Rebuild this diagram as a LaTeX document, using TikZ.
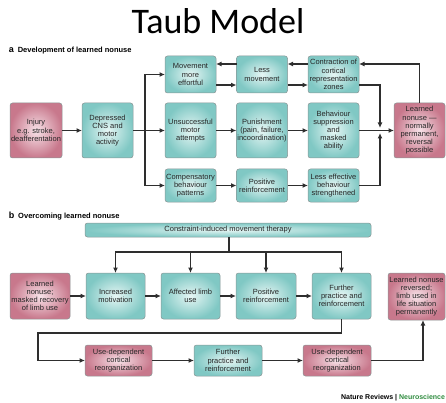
\documentclass[tikz,border=0pt]{standalone}
\usepackage{fontspec}
\setmainfont{Liberation Sans}
\newfontfamily\titlefont{Carlito}
\usetikzlibrary{arrows.meta}
\definecolor{tealedge}{HTML}{80C8C4}
\definecolor{tealmid}{HTML}{E6F6F4}
\definecolor{pinkedge}{HTML}{C8788C}
\definecolor{pinkmid}{HTML}{F7E2E8}
\definecolor{boxline}{HTML}{8A9696}
\definecolor{flowgrey}{HTML}{2E2E2E}
\definecolor{natgreen}{HTML}{2E8B3E}
\begin{document}
\begin{tikzpicture}[x=1pt,y=-1pt,inner sep=1pt,outer sep=0pt,
>={Latex[length=5.5pt,width=5pt]},
flow/.style={draw=flowgrey,line width=1.2pt},
boxtext/.style={font=\fontsize{7.5}{8.2}\selectfont,text=black!85,align=center},
tealbox/.style={boxtext,draw=boxline,line width=0.5pt,rounded corners=2.5pt,inner color=tealmid,outer color=tealedge,minimum width=51pt},
pinkbox/.style={boxtext,draw=boxline,line width=0.5pt,rounded corners=2.5pt,inner color=pinkmid,outer color=pinkedge,minimum width=51pt},
headtext/.style={anchor=base west,font=\bfseries\fontsize{7.5}{9}\selectfont}]

\useasboundingbox (0,0) rectangle (446,403);

\draw (218,34) node[anchor=base,font=\titlefont\fontsize{36}{40}\selectfont] (title) {Taub Model};
\draw (8,53) node[headtext] (heada) {{\fontsize{9}{9}\selectfont a}\enspace Development of learned nonuse};
\draw (8,218) node[headtext] (headb) {{\fontsize{9}{9}\selectfont b}\enspace Overcoming learned nonuse};

\draw (36,130.5) node[pinkbox,minimum width=52pt,minimum height=55pt] (injury) {Injury\\e.g. stroke,\\deafferentation};
\draw (107.5,130.5) node[tealbox,minimum height=55pt] (cns) {Depressed\\CNS and\\motor\\activity};
\draw (190.5,74.5) node[tealbox,minimum height=37pt] (effort) {Movement\\more\\effortful};
\draw (190.5,130.5) node[tealbox,minimum height=55pt] (unsucc) {Unsuccessful\\motor\\attempts};
\draw (190.5,185.5) node[tealbox,minimum height=33pt] (comp) {Compensatory\\behaviour\\patterns};
\draw (262,74.5) node[tealbox,minimum height=37pt] (lessmov) {Less\\movement};
\draw (262,130.5) node[tealbox,minimum height=55pt] (punish) {Punishment\\(pain, failure,\\incoordination)};
\draw (262,185.5) node[tealbox,minimum height=33pt] (posrf) {Positive\\reinforcement};
\draw (333.5,74.5) node[tealbox,minimum height=37pt] (contract) {Contraction of\\cortical\\representation\\zones};
\draw (333.5,130.5) node[tealbox,minimum height=55pt] (suppress) {Behaviour\\suppression\\and\\masked\\ability};
\draw (333.5,185.5) node[tealbox,minimum height=33pt] (lesseff) {Less effective\\behaviour\\strengthened};
\draw (419.5,130.5) node[pinkbox,minimum height=55pt] (nonuse) {Learned\\nonuse ---\\normally\\permanent,\\reversal\\possible};

\coordinate (fork) at (145,130.5);
\coordinate (join) at (380,130.5);

\draw[flow,->] (injury) -- (cns);
\draw[flow] (cns) -- (fork);
\draw[flow,->] (fork) |- (effort);
\draw[flow,->] (fork) -- (unsucc);
\draw[flow,->] (fork) |- (comp);
\draw[flow,->] ([yshift=-10.5pt]effort.east) -- ([yshift=-10.5pt]lessmov.west);
\draw[flow,->] ([yshift=10.5pt]lessmov.west) -- ([yshift=10.5pt]effort.east);
\draw[flow,->] ([yshift=-10.5pt]lessmov.east) -- ([yshift=-10.5pt]contract.west);
\draw[flow,->] ([yshift=10.5pt]contract.west) -- ([yshift=10.5pt]lessmov.east);
\draw[flow,->] (unsucc) -- (punish);
\draw[flow,->] (punish) -- (suppress);
\draw[flow,->] (comp) -- (posrf);
\draw[flow,->] (posrf) -- (lesseff);
\draw[flow,->] ([yshift=-10.5pt]contract.east) -| ([yshift=2.5pt]join);
\draw[flow,->] (lesseff.east) -| ([yshift=-2.5pt]join);
\draw[flow,->] (suppress) -- (nonuse);
\draw[flow,->] (nonuse.north) |- ([yshift=10.5pt]contract.east);

\draw (228,230) node[tealbox,minimum width=286pt,minimum height=14pt] (therapy) {Constraint-induced movement therapy};
\draw (40,296) node[pinkbox,minimum width=60pt,minimum height=46pt] (masked) {Learned\\nonuse;\\masked recovery\\of limb use};
\draw (115.5,296) node[tealbox,minimum width=59pt,minimum height=46pt] (motiv) {Increased\\motivation};
\draw (190.5,296) node[tealbox,minimum width=59pt,minimum height=46pt] (limb) {Affected limb\\use};
\draw (266,296) node[tealbox,minimum width=60pt,minimum height=46pt] (posrfb) {Positive\\reinforcement};
\draw (341.5,296) node[tealbox,minimum width=59pt,minimum height=46pt] (further) {Further\\practice and\\reinforcement};
\draw (416.5,296.5) node[pinkbox,minimum width=57pt,minimum height=47pt] (reversed) {Learned nonuse\\reversed;\\limb used in\\life situation\\permanently};
\draw (118.5,360.5) node[pinkbox,minimum width=67pt,minimum height=31pt] (udone) {Use-dependent\\cortical\\reorganization};
\draw (228,360.5) node[tealbox,minimum width=68pt,minimum height=31pt] (furtherb) {Further\\practice and\\reinforcement};
\draw (337,360.5) node[pinkbox,minimum width=68pt,minimum height=31pt] (udtwo) {Use-dependent\\cortical\\reorganization};

\coordinate (split) at (229,252);
\coordinate (turn) at (38,333);

\draw[flow] (therapy.south -| split) -- (split);
\draw[flow,->] (split) -| (motiv);
\draw[flow,->] (split) -| (further);
\draw[flow,->] (split -| limb) -- (limb);
\draw[flow,->] (split -| posrfb) -- (posrfb);
\draw[flow,->] (masked) -- (motiv);
\draw[flow,->] (motiv) -- (limb);
\draw[flow,->] (limb) -- (posrfb);
\draw[flow,->] (posrfb) -- (further);
\draw[flow,->] (further.south) |- (turn) |- (udone.west);
\draw[flow,->] (udone) -- (furtherb);
\draw[flow,->] (furtherb) -- (udtwo);
\draw[flow,->] (udtwo.east) -| ([xshift=6.5pt]reversed.south);

\draw (446,399) node[anchor=base east,font=\bfseries\fontsize{7}{8}\selectfont] (credit) {Nature Reviews | \textcolor{natgreen}{Neuroscience}};

\end{tikzpicture}
\end{document}
